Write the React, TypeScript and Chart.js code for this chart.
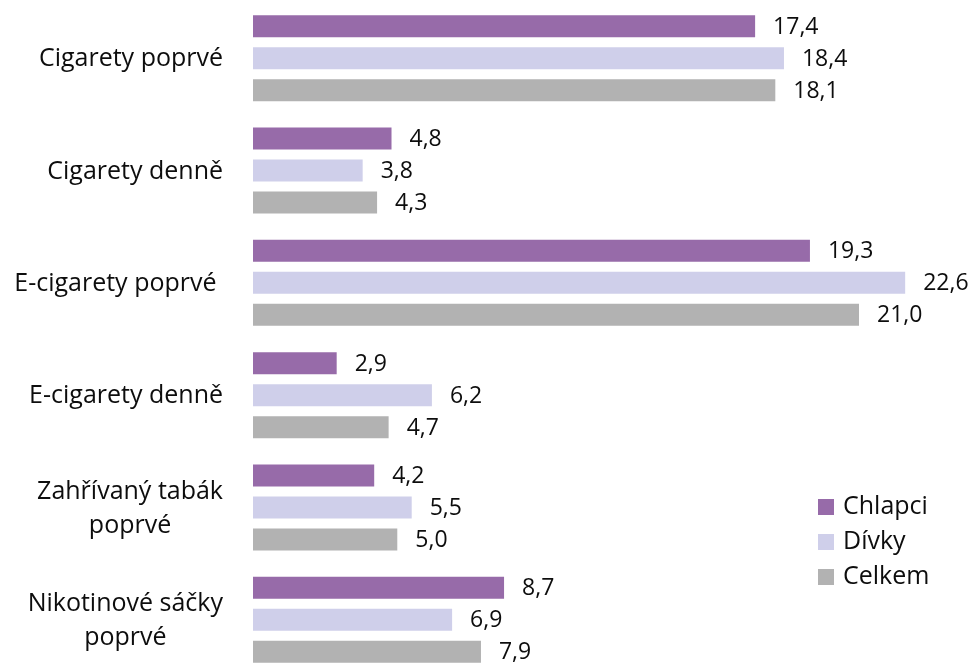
import React, { useEffect, useRef } from "react";
import { Chart, registerables } from "chart.js";

Chart.register(...registerables);

const categories: (string | string[])[] = [
  "Cigarety poprvé",
  "Cigarety denně",
  "E-cigarety poprvé ",
  "E-cigarety denně",
  ["Zahřívaný tabák", "poprvé"],
  ["Nikotinové sáčky", "poprvé"],
];

const seriesNames = ["Chlapci", "Dívky", "Celkem"];
const chlapci = [17.4, 4.8, 19.3, 2.9, 4.2, 8.7];
const divky = [18.4, 3.8, 22.6, 6.2, 5.5, 6.9];
const celkem = [18.1, 4.3, 21.0, 4.7, 5.0, 7.9];
const colors = ["#976BA9", "#CFCFEA", "#B2B2B2"];

const FONT = "'Open Sans', 'Noto Sans', sans-serif";

const fmt = (v: number) => v.toFixed(1).replace(".", ",");

const categoryLabelsPlugin = {
  id: "categoryLabels",
  afterDraw(chart: any) {
    const ctx = chart.ctx;
    const scale = chart.scales.y;
    const labels = chart.data.labels as (string | string[])[];
    const rightEdge = 223;
    const lineH = 34;
    ctx.save();
    ctx.font = `25px ${FONT}`;
    ctx.fillStyle = "#0d0d0d";
    ctx.textBaseline = "middle";
    ctx.textAlign = "center";
    labels.forEach((lab, i) => {
      const lines = Array.isArray(lab) ? lab : [lab];
      const y = scale.getPixelForValue(i) + 1;
      const maxW = Math.max(...lines.map((l) => ctx.measureText(l).width));
      const cx = rightEdge - maxW / 2;
      lines.forEach((l, j) => {
        ctx.fillText(l, cx, y + (j - (lines.length - 1) / 2) * lineH);
      });
    });
    ctx.restore();
  },
};

const valueLabelsPlugin = {
  id: "valueLabels",
  afterDatasetsDraw(chart: any) {
    const ctx = chart.ctx;
    ctx.save();
    ctx.font = `23px ${FONT}`;
    ctx.fillStyle = "#0d0d0d";
    ctx.textBaseline = "middle";
    ctx.textAlign = "left";
    chart.data.datasets.forEach((ds: any, di: number) => {
      const meta = chart.getDatasetMeta(di);
      meta.data.forEach((el: any, i: number) => {
        ctx.fillText(fmt(ds.data[i]), el.x + 18, el.y + 1);
      });
    });
    ctx.restore();
  },
};

const legendPlugin = {
  id: "customLegend",
  afterDraw(chart: any) {
    const ctx = chart.ctx;
    ctx.save();
    ctx.font = `25px ${FONT}`;
    ctx.textBaseline = "middle";
    ctx.textAlign = "left";
    chart.data.datasets.forEach((ds: any, i: number) => {
      const top = 499 + i * 35;
      ctx.fillStyle = ds.backgroundColor;
      ctx.fillRect(818, top, 16, 16);
      ctx.fillStyle = "#0d0d0d";
      ctx.fillText(ds.label, 843, top + 8);
    });
    ctx.restore();
  },
};

export default function App() {
  const ref = useRef<HTMLCanvasElement | null>(null);
  useEffect(() => {
    if (!ref.current) return;
    const values = [chlapci, divky, celkem];
    const chart = new Chart(ref.current, {
      type: "bar",
      data: {
        labels: categories as any,
        datasets: seriesNames.map((name, i) => ({
          label: name,
          data: values[i],
          backgroundColor: colors[i],
          borderWidth: 0,
          barPercentage: 0.6875,
          categoryPercentage: 0.8546,
        })),
      },
      options: {
        indexAxis: "y",
        responsive: true,
        maintainAspectRatio: false,
        animation: false,
        layout: { padding: { left: 253, right: 11, top: 2, bottom: 4 } },
        scales: {
          x: { display: false, min: 0, max: 24.5 },
          y: { display: false },
        },
        plugins: {
          legend: { display: false },
          tooltip: { enabled: false },
        },
      },
      plugins: [categoryLabelsPlugin, valueLabelsPlugin, legendPlugin],
    });
    return () => chart.destroy();
  }, []);

  return (
    <div
      style={{
        position: "fixed",
        left: 0,
        top: 0,
        width: 971,
        height: 666,
        overflow: "hidden",
        background: "#ffffff",
      }}
    >
      <div style={{ position: "relative", width: 971, height: 680 }}>
        <canvas ref={ref} />
      </div>
    </div>
  );
}
